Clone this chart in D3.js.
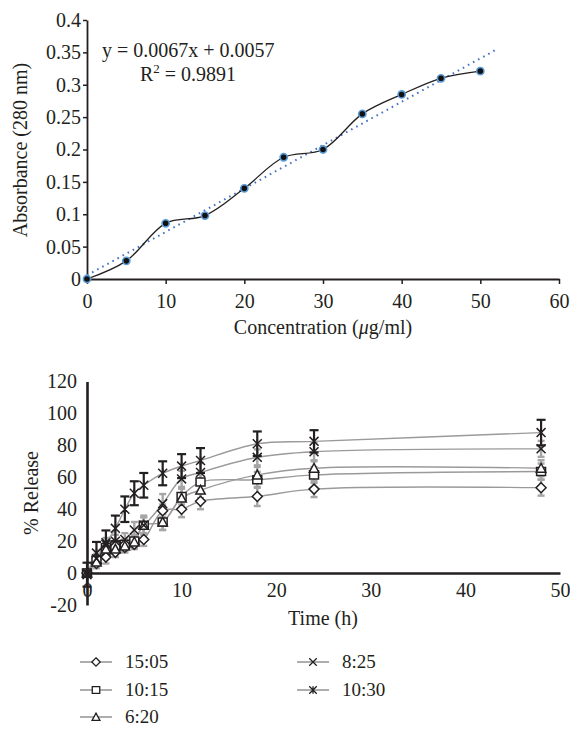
<!DOCTYPE html>
<html>
<head>
<meta charset="utf-8">
<script src="https://cdn.jsdelivr.net/npm/d3@7"></script>
<style>
body { margin: 0; background: #fff; }
svg text { font-family: "Liberation Serif", "Times New Roman", serif; fill: #231f20; }
</style>
</head>
<body>
<script>
// --- calibration curve (top) ---
const conc = [0, 5, 10, 15, 20, 25, 30, 35, 40, 45, 50];
const absorb = [0, 0.028, 0.086, 0.098, 0.14, 0.188, 0.2, 0.255, 0.285, 0.31, 0.321];
const fitSlope = 0.0067, fitIntercept = 0.0057, fitEnd = 52;
const topYTicks = [0, 0.05, 0.1, 0.15, 0.2, 0.25, 0.3, 0.35, 0.4];
const topXTicks = [0, 10, 20, 30, 40, 50, 60];

// --- release profile (bottom) ---
const hours = [0, 1, 2, 3, 4, 5, 6, 8, 10, 12, 18, 24, 48];
const names = ["15:05", "10:15", "6:20", "8:25", "10:30"];
const r1505 = [0, 6, 10, 13, 16, 18, 21, 39, 40, 45, 48, 52.6, 53.5];
const r1015 = [0, 8, 16, 17, 18, 20, 30, 32, 48, 57, 58.4, 61.5, 63.6];
const r620 = [0, 7, 15, 15, 17, 19.5, 30, 32, 47, 52, 61.5, 65.7, 65.7];
const r825 = [0, 9, 18, 20, 21, 27, 30, 43.5, 59, 63, 72.5, 76, 77.8];
const r1030 = [-1, 12.5, 19, 28, 40, 50, 55, 62.5, 67, 70.5, 81, 82.5, 88];
const e1505 = [2, 3, 4, 3, 3, 3, 4, 4, 5, 5, 6, 5, 5];
const e1015 = [2, 2, 3, 3, 3, 4, 6, 5, 5, 6, 5, 5, 5];
const e620 = [2, 2, 3, 3, 4, 4, 5, 5, 6, 5, 5, 5, 5];
const e825 = [2, 3, 4, 4, 4, 5, 5, 6, 5, 6, 5, 6, 5];
const e1030 = [7.5, 7, 7.7, 8, 8, 7.5, 7.7, 7.5, 7.5, 7.8, 7.7, 7, 8];
const botYTicks = [-20, 0, 20, 40, 60, 80, 100, 120];
const botXTicks = [0, 10, 20, 30, 40, 50];

const ink = "#231f20";
const svg = d3.select("body").append("svg").attr("width", 570).attr("height", 729);

// ========== top chart ==========
var x1 = d3.scaleLinear().domain([0, 60]).range([87, 559]);
var y1 = d3.scaleLinear().domain([0, 0.4]).range([279, 20]);

var gy1 = svg.append("g").attr("transform", "translate(87,0)")
    .call(d3.axisLeft(y1).tickValues(topYTicks).tickSize(4).tickSizeOuter(0).tickPadding(2)
        .tickFormat(d => String(+d.toFixed(2))));
var gx1 = svg.append("g").attr("transform", "translate(0,279)")
    .call(d3.axisBottom(x1).tickValues(topXTicks).tickSize(5).tickSizeOuter(0).tickPadding(10)
        .tickFormat(d => String(d)));
[gy1, gx1].forEach(g => {
    g.selectAll("text").attr("font-size", 20).attr("fill", ink);
    g.selectAll("line").attr("stroke", ink).attr("stroke-width", 1.5);
    g.select(".domain").attr("stroke", ink).attr("stroke-width", 1.8);
});

svg.append("text").attr("transform", "translate(27,150) rotate(-90)")
    .attr("text-anchor", "middle").attr("font-size", 20).text("Absorbance (280 nm)");
var xt = svg.append("text").attr("x", 323).attr("y", 334).attr("text-anchor", "middle").attr("font-size", 20);
xt.append("tspan").text("Concentration (");
xt.append("tspan").attr("font-style", "italic").text("\u03bc");
xt.append("tspan").text("g/ml)");

// trendline
svg.append("line")
    .attr("x1", x1(0)).attr("y1", y1(fitIntercept))
    .attr("x2", x1(fitEnd)).attr("y2", y1(fitSlope * fitEnd + fitIntercept))
    .attr("stroke", "#4472c4").attr("stroke-width", 2).attr("stroke-dasharray", "1.6,4.2");

var line1 = d3.line().x((d, i) => x1(conc[i])).y(d => y1(d)).curve(d3.curveCatmullRom.alpha(0.5));
svg.append("path").attr("d", line1(absorb)).attr("fill", "none").attr("stroke", ink).attr("stroke-width", 1.3);

svg.selectAll("circle.cal").data(absorb).enter().append("circle").attr("class", "cal")
    .attr("cx", (d, i) => x1(conc[i])).attr("cy", d => y1(d)).attr("r", 3.6)
    .attr("fill", "#111").attr("stroke", "#5b9bd5").attr("stroke-width", 1.6);

svg.append("text").attr("x", 102).attr("y", 57).attr("font-size", 20).text("y = 0.0067x + 0.0057");
var r2 = svg.append("text").attr("x", 140).attr("y", 81).attr("font-size", 20);
r2.append("tspan").text("R");
r2.append("tspan").attr("font-size", 13).attr("dy", -8).text("2");
r2.append("tspan").attr("dy", 8).text(" = 0.9891");

// ========== bottom chart ==========
var x2 = d3.scaleLinear().domain([0, 50]).range([87, 560]);
var y2 = d3.scaleLinear().domain([-20, 120]).range([605, 381.5]);

// custom marker shapes, size = half-width squared
var mk = {
    diamond: { draw(c, s) { var r = Math.sqrt(s); c.moveTo(0, -r); c.lineTo(r, 0); c.lineTo(0, r); c.lineTo(-r, 0); c.closePath(); } },
    square: { draw(c, s) { var r = Math.sqrt(s); c.rect(-r, -r * 0.9, 2 * r, 1.8 * r); } },
    triangle: { draw(c, s) { var r = Math.sqrt(s); c.moveTo(0, -r); c.lineTo(r, r * 0.85); c.lineTo(-r, r * 0.85); c.closePath(); } },
    cross: { draw(c, s) { var r = Math.sqrt(s); c.moveTo(-r, -r); c.lineTo(r, r); c.moveTo(r, -r); c.lineTo(-r, r); } },
    star: { draw(c, s) { var r = Math.sqrt(s); c.moveTo(-r, -r); c.lineTo(r, r); c.moveTo(r, -r); c.lineTo(-r, r); c.moveTo(0, -r); c.lineTo(0, r); } }
};
var series = [
    { name: names[0], vals: r1505, err: e1505, shape: mk.diamond, size: 25, ecol: "#a6a6a6" },
    { name: names[1], vals: r1015, err: e1015, shape: mk.square, size: 20, ecol: "#a6a6a6" },
    { name: names[2], vals: r620, err: e620, shape: mk.triangle, size: 22, ecol: "#a6a6a6" },
    { name: names[3], vals: r825, err: e825, shape: mk.cross, size: 20, ecol: "#a6a6a6" },
    { name: names[4], vals: r1030, err: e1030, shape: mk.star, size: 20, ecol: ink }
];

var line2 = d3.line().x((d, i) => x2(hours[i])).y(d => y2(d)).curve(d3.curveCatmullRom.alpha(0.5));
series.forEach(s => {
    svg.append("path").attr("d", line2(s.vals)).attr("fill", "none")
        .attr("stroke", "#9a9a9a").attr("stroke-width", 1.4);
});

series.forEach(s => {
    var g = svg.append("g").attr("stroke", s.ecol).attr("stroke-width", s.ecol === ink ? 2.2 : 2.4);
    var cw = s.ecol === ink ? 4.5 : 3.5;
    s.vals.forEach((v, i) => {
        var cx = x2(hours[i]), lo = y2(v - s.err[i]), hi = y2(v + s.err[i]);
        g.append("line").attr("x1", cx).attr("x2", cx).attr("y1", lo).attr("y2", hi);
        g.append("line").attr("x1", cx - cw).attr("x2", cx + cw).attr("y1", lo).attr("y2", lo);
        g.append("line").attr("x1", cx - cw).attr("x2", cx + cw).attr("y1", hi).attr("y2", hi);
    });
});

series.forEach(s => {
    svg.append("g").selectAll("path").data(s.vals).enter().append("path")
        .attr("transform", (d, i) => "translate(" + x2(hours[i]) + "," + y2(d) + ")")
        .attr("d", d3.symbol().type(s.shape).size(s.size)())
        .attr("fill", "#fff").attr("stroke", ink).attr("stroke-width", 1.5);
});

var gy2 = svg.append("g").attr("transform", "translate(87,0)")
    .call(d3.axisLeft(y2).tickValues(botYTicks).tickSize(0).tickPadding(10).tickFormat(d => String(d)));
var gx2 = svg.append("g").attr("transform", "translate(0," + y2(0) + ")")
    .call(d3.axisBottom(x2).tickValues(botXTicks).tickSize(0).tickPadding(10).tickFormat(d => String(d)));
[gy2, gx2].forEach(g => {
    g.selectAll("text").attr("font-size", 20).attr("fill", ink);
    g.select(".domain").attr("stroke", ink).attr("stroke-width", 2.6);
});

svg.append("text").attr("transform", "translate(38,493) rotate(-90)")
    .attr("text-anchor", "middle").attr("font-size", 20).text("% Release");
svg.append("text").attr("x", 323).attr("y", 625).attr("text-anchor", "middle").attr("font-size", 20).text("Time (h)");

// legend
var legPos = [[80, 662], [80, 690], [80, 717], [297, 662], [297, 690]];
series.forEach((s, i) => {
    var g = svg.append("g").attr("transform", "translate(" + legPos[i][0] + "," + legPos[i][1] + ")");
    g.append("line").attr("x1", 0).attr("x2", 32).attr("stroke", "#9a9a9a").attr("stroke-width", 1.6);
    g.append("path").attr("transform", "translate(16,0)")
        .attr("d", d3.symbol().type(s.shape).size(s.size * 0.7)())
        .attr("fill", "#fff").attr("stroke", ink).attr("stroke-width", 1.3);
    g.append("text").attr("x", 45).attr("y", 6).attr("font-size", 19).text(s.name);
});
</script>
</body>
</html>
